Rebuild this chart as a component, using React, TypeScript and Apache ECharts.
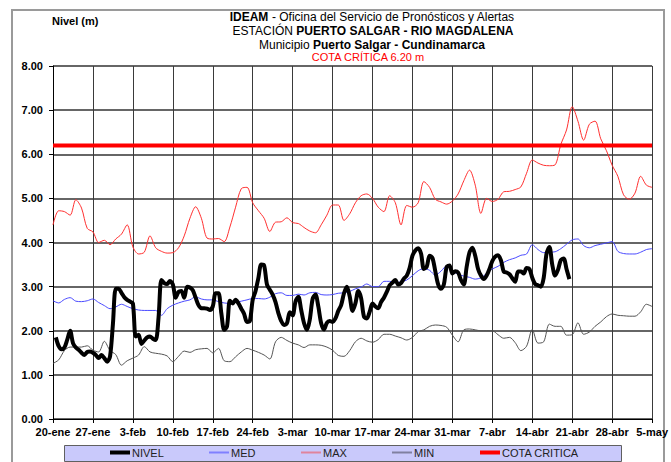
import React, { useEffect, useRef } from "react";
import * as echarts from "echarts";

const FONT = "'Liberation Sans', Arial, sans-serif";

const xLabels = ["20-ene", "27-ene", "3-feb", "10-feb", "17-feb", "24-feb", "3-mar", "10-mar", "17-mar", "24-mar", "31-mar", "7-abr", "14-abr", "21-abr", "28-abr", "5-may"];

// NIVEL: two readings per day, starting on day 0.5 (days counted from 20-ene)
const nivelStart = 0.5;
const nivelStep = 0.5;
const nivel = [
  1.85, 1.65, 1.58, 1.62, 1.80, 2.00, 1.72, 1.62, 1.57, 1.50,
  1.45, 1.52, 1.53, 1.50, 1.45, 1.38, 1.45, 1.38, 1.30, 1.42,
  2.15, 2.95, 2.95, 2.86, 2.76, 2.70, 2.66, 2.62, 1.87, 1.91,
  1.70, 1.78, 1.85, 1.87, 1.82, 1.79, 2.30, 3.15, 3.08, 3.06,
  3.13, 3.05, 2.75, 2.88, 2.90, 2.75, 3.00, 2.98, 2.92, 2.75,
  2.58, 2.51, 2.51, 2.50, 2.47, 2.55, 2.85, 2.85, 2.40, 2.02,
  2.10, 2.68, 2.62, 2.70, 2.62, 2.50, 2.38, 2.20, 2.22, 2.70,
  2.90, 3.20, 3.50, 3.48, 3.05, 2.93, 2.82, 2.65, 2.40, 2.22,
  2.13, 2.17, 2.42, 2.35, 2.66, 2.77, 2.47, 2.17, 2.02, 2.25,
  2.72, 2.82, 2.55, 2.17, 2.03, 2.18, 2.22, 2.20, 2.28, 2.45,
  2.58, 2.85, 3.00, 2.78, 2.45, 2.62, 2.90, 2.74, 2.32, 2.28,
  2.43, 2.62, 2.55, 2.51, 2.65, 2.75, 2.88, 3.03, 3.09, 3.15,
  3.05, 3.08, 3.18, 3.25, 3.42, 3.70, 3.82, 3.87, 3.75, 3.40,
  3.45, 3.70, 3.65, 3.35, 3.05, 2.95, 3.05, 3.45, 3.48, 3.30,
  3.35, 3.32, 3.15, 3.05, 3.45, 3.78, 3.88, 3.70, 3.40, 3.25,
  3.17, 3.25, 3.40, 3.58, 3.68, 3.71, 3.60, 3.34, 3.32, 3.28,
  3.19, 3.11, 3.34, 3.34, 3.30, 3.42, 3.40, 3.20, 3.06, 3.03,
  3.00, 3.20, 3.75, 3.90, 3.50, 3.25, 3.38, 3.60, 3.64, 3.40,
  3.17
];

// Daily historical statistics, day 0 = 20-ene ... day 105 = 5-may
const med = [
  2.68, 2.63, 2.71, 2.75, 2.67, 2.66, 2.68, 2.72, 2.64, 2.57,
  2.50, 2.54, 2.60, 2.55, 2.50, 2.47, 2.46, 2.46, 2.46, 2.35,
  2.50, 2.58, 2.63, 2.67, 2.70, 2.77, 2.72, 2.70, 2.70, 2.66,
  2.63, 2.62, 2.64, 2.67, 2.70, 2.73, 2.73, 2.72, 2.76, 2.84,
  2.86, 2.80, 2.80, 2.83, 2.81, 2.86, 2.87, 2.82, 2.81, 2.82,
  2.85, 2.86, 2.89, 2.95, 2.99, 3.06, 3.00, 3.00, 3.12, 3.12,
  3.09, 3.11, 3.15, 3.25, 3.36, 3.41, 3.37, 3.26, 3.35, 3.47,
  3.36, 3.28, 3.24, 3.21, 3.17, 3.20, 3.30, 3.40, 3.46, 3.55,
  3.61, 3.65, 3.71, 3.74, 3.95, 3.84, 3.77, 3.78, 3.79, 3.86,
  3.96, 4.06, 4.08, 3.93, 3.88, 3.93, 3.96, 3.99, 4.02, 3.80,
  3.75, 3.74, 3.74, 3.78, 3.84, 3.86
];

const max = [
  4.40, 4.72, 4.70, 4.62, 4.97, 4.78, 4.32, 4.24, 4.00, 4.05,
  3.95, 4.08, 4.19, 4.40, 3.90, 3.74, 3.78, 4.15, 3.88, 3.80,
  3.76, 3.77, 3.88, 4.15, 4.55, 4.81, 4.55, 4.10, 4.08, 4.09,
  4.02, 4.35, 4.80, 5.22, 5.25, 4.90, 4.72, 4.55, 4.25, 4.46,
  4.47, 4.56, 4.45, 4.43, 4.34, 4.26, 4.22, 4.40, 4.62, 4.85,
  4.85, 4.50, 4.65, 4.90, 5.06, 5.10, 5.00, 4.80, 4.70, 5.06,
  4.90, 4.40, 4.84, 4.80, 4.90, 5.38, 5.25, 4.98, 4.92, 4.87,
  4.94, 5.10, 5.40, 5.64, 5.30, 4.66, 5.00, 4.93, 4.98, 5.15,
  5.16, 5.20, 5.26, 5.57, 5.87, 5.80, 5.75, 5.74, 5.76, 6.22,
  6.55, 7.08, 6.75, 6.32, 6.68, 6.75, 6.35, 6.08, 5.75, 5.50,
  5.08, 4.98, 5.12, 5.50, 5.30, 5.25
];

const min = [
  1.26, 1.34, 1.55, 1.63, 1.63, 1.63, 1.66, 1.56, 1.52, 1.76,
  1.55, 1.46, 1.22, 1.32, 1.38, 1.45, 1.64, 1.52, 1.49, 1.47,
  1.43, 1.30, 1.42, 1.54, 1.51, 1.57, 1.59, 1.60, 1.50, 1.60,
  1.32, 1.30, 1.41, 1.52, 1.60, 1.56, 1.51, 1.45, 1.36, 1.75,
  1.85, 1.78, 1.72, 1.68, 1.62, 1.68, 1.68, 1.67, 1.63, 1.56,
  1.44, 1.42, 1.55, 1.75, 1.83, 1.77, 1.74, 1.80, 1.92, 1.92,
  1.88, 1.84, 1.79, 1.85, 1.98, 2.02, 2.10, 2.13, 2.12, 2.08,
  1.90, 1.75, 2.02, 2.04, 2.02, 2.00, 2.00, 2.00, 1.91, 1.83,
  1.85, 1.73, 1.55, 1.65, 2.03, 1.72, 1.75, 2.15, 2.10, 2.10,
  1.90, 1.91, 2.18, 1.92, 1.97, 2.10, 2.20, 2.32, 2.38, 2.35,
  2.34, 2.33, 2.33, 2.43, 2.60, 2.55
];

const cotaCritica = 6.2;
const xMin = 0;
const xMax = 105;
const xInterval = 7;

export default function App() {
  const ref = useRef<HTMLDivElement>(null);

  useEffect(() => {
    if (!ref.current) return;
    const chart = echarts.init(ref.current, null, { renderer: "svg" });

    const daily = (arr: number[]) => arr.map((v, i) => [i, v]);
    const nivelData = nivel.map((v, i) => [nivelStart + i * nivelStep, v]);
    const cotaData = [[xMin, cotaCritica], [xMax, cotaCritica]];

    const txt = (x: number, y: number, text: string, extra: any = {}) => ({
      type: "text",
      x,
      y,
      z: 5,
      style: {
        text,
        fill: "#000",
        fontSize: 12,
        fontFamily: FONT,
        textAlign: "center",
        textVerticalAlign: "middle",
        rich: {
          b: { fontWeight: "bold", fontSize: 12, fontFamily: FONT, fill: "#000" },
        },
        ...extra,
      },
    });

    const leg = (name: string, left: number, h: number, color: string) => ({
      z: 10,
      left,
      top: 447,
      padding: 0,
      icon: "rect",
      itemWidth: 20,
      itemHeight: h,
      textStyle: { fontSize: 11, fontFamily: FONT, color: "#222", padding: [0, 0, 0, -3] },
      data: [{ name, itemStyle: { color } }],
    });

    chart.setOption({
      animation: false,
      backgroundColor: "#ffffff",
      graphic: [
        {
          type: "rect",
          z: 0,
          shape: { x: 12, y: 10, width: 652, height: 470 },
          style: { fill: "none", stroke: "#9a9a9a", lineWidth: 2 },
        },
        {
          type: "rect",
          z: 0,
          shape: { x: 64.5, y: 445.5, width: 557, height: 16 },
          style: { fill: "#c9c9fb", stroke: "#606060", lineWidth: 1 },
        },
        txt(52, 21, "Nivel (m)", { textAlign: "left", fontWeight: "bold", fontSize: 11 }),
        txt(372, 17, "{b|IDEAM} - Oficina del Servicio de Pronósticos y Alertas"),
        txt(373, 31, "ESTACIÓN {b|PUERTO SALGAR - RIO MAGDALENA}"),
        txt(372, 45, "Municipio {b|Puerto Salgar - Cundinamarca}"),
        txt(368, 57, "COTA CRÍTICA 6.20 m", { fill: "#ff0000", fontSize: 11 }),
      ],
      legend: [
        leg("NIVEL", 110, 4, "#000000"),
        leg("MED", 209, 2, "#8080ff"),
        leg("MAX", 301, 2, "#e0849c"),
        leg("MIN", 392, 2, "#8080a0"),
        leg("COTA CRITICA", 480, 4, "#ff0000"),
      ],
      grid: { left: 53, right: 18, top: 66, bottom: 43, containLabel: false },
      xAxis: {
        type: "value",
        min: xMin,
        max: xMax,
        interval: xInterval,
        axisLine: { show: true, lineStyle: { color: "#000", width: 1 } },
        axisTick: { show: true, length: 4, lineStyle: { color: "#000" } },
        axisLabel: {
          margin: 7,
          fontSize: 11,
          fontWeight: "bold",
          fontFamily: FONT,
          color: "#000",
          formatter: (v: number) => xLabels[Math.round(v / xInterval)] ?? "",
        },
        splitLine: { show: true, lineStyle: { color: "#3a3a3a", width: 1 } },
      },
      yAxis: {
        type: "value",
        min: 0,
        max: 8,
        interval: 1,
        axisLine: { show: true, lineStyle: { color: "#000", width: 1 } },
        axisTick: { show: true, length: 4, lineStyle: { color: "#000" } },
        axisLabel: {
          margin: 10,
          fontSize: 11,
          fontWeight: "bold",
          fontFamily: FONT,
          color: "#000",
          formatter: (v: number) => v.toFixed(2),
        },
        splitLine: { show: true, lineStyle: { color: "#333333", width: 1.5 } },
      },
      series: [
        {
          name: "NIVEL",
          type: "line",
          data: nivelData,
          symbol: "none",
          smooth: 0.3,
          z: 6,
          lineStyle: { color: "#000000", width: 4 },
          itemStyle: { color: "#000000" },
        },
        {
          name: "MED",
          type: "line",
          data: daily(med),
          symbol: "none",
          smooth: 0.3,
          z: 4,
          lineStyle: { color: "#4a4aff", width: 1 },
          itemStyle: { color: "#4a4aff" },
        },
        {
          name: "MAX",
          type: "line",
          data: daily(max),
          symbol: "none",
          smooth: 0.3,
          z: 4,
          lineStyle: { color: "#ff3030", width: 1 },
          itemStyle: { color: "#ff3030" },
        },
        {
          name: "MIN",
          type: "line",
          data: daily(min),
          symbol: "none",
          smooth: 0.3,
          z: 4,
          lineStyle: { color: "#555555", width: 1 },
          itemStyle: { color: "#555555" },
        },
        {
          name: "COTA CRITICA",
          type: "line",
          data: cotaData,
          symbol: "none",
          z: 5,
          lineStyle: { color: "#ff0000", width: 4 },
          itemStyle: { color: "#ff0000" },
        },
      ],
    });

    return () => chart.dispose();
  }, []);

  return (
    <div
      ref={ref}
      style={{ position: "fixed", left: 0, top: 0, width: 671, height: 462 }}
    />
  );
}
